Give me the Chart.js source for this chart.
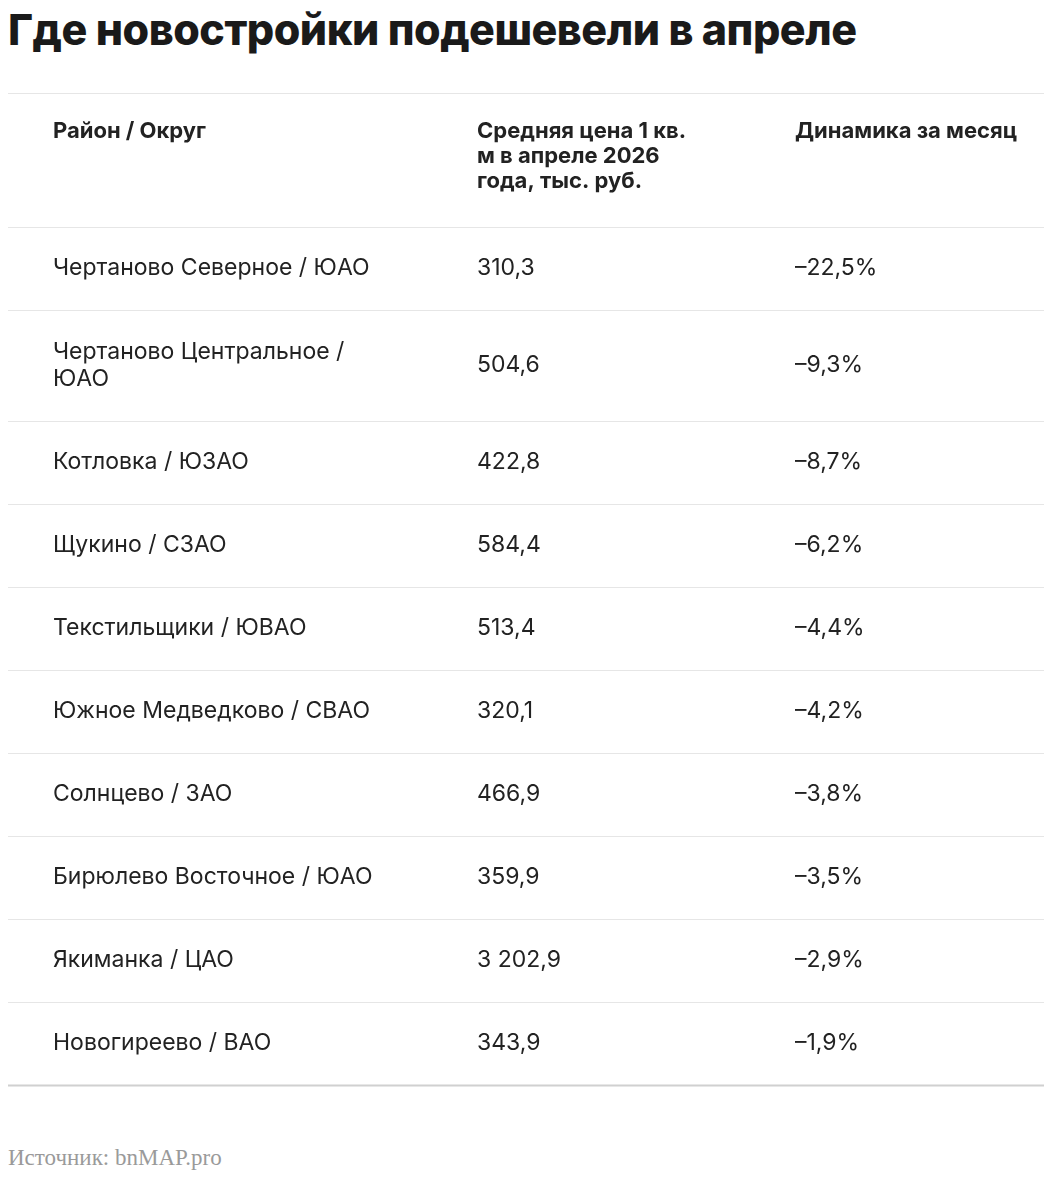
<!DOCTYPE html>
<html lang="ru">
<head>
<meta charset="utf-8">
<script src="https://cdn.jsdelivr.net/npm/chart.js@4.4.1/dist/chart.umd.min.js"></script>
<style>
  html, body { margin: 0; padding: 0; background: #fff; }
  body { width: 1044px; height: 1178px; position: relative; overflow: hidden; }
  h1 { position: absolute; left: 8px; top: 3px; margin: 0; font: 800 43px "Inter", "Roboto", sans-serif; color: #1a1a1a; letter-spacing: -0.5px; }
  #wrap { position: absolute; left: 8px; top: 93px; width: 1036px; height: 1000px; }
  .src { position: absolute; left: 8px; top: 1145px; font: 23px "Liberation Serif", "DejaVu Serif", serif; color: #9a9a9a; }
</style>
</head>
<body>
<h1>Где новостройки подешевели в апреле</h1>
<div id="wrap"><canvas id="tbl"></canvas></div>
<div class="src">Источник: bnMAP.pro</div>
<script>
// table data
const headers = ['Район / Округ', 'Средняя цена 1 кв.\nм в апреле 2026\nгода, тыс. руб.', 'Динамика за месяц'];
const districts = [
  'Чертаново Северное / ЮАО',
  'Чертаново Центральное /\nЮАО',
  'Котловка / ЮЗАО',
  'Щукино / СЗАО',
  'Текстильщики / ЮВАО',
  'Южное Медведково / СВАО',
  'Солнцево / ЗАО',
  'Бирюлево Восточное / ЮАО',
  'Якиманка / ЦАО',
  'Новогиреево / ВАО'
];
const prices = ['310,3', '504,6', '422,8', '584,4', '513,4', '320,1', '466,9', '359,9', '3 202,9', '343,9'];
const changes = ['–22,5%', '–9,3%', '–8,7%', '–6,2%', '–4,4%', '–4,2%', '–3,8%', '–3,5%', '–2,9%', '–1,9%'];

// layout (scale units == px)
const colX = [45, 469, 787];
const HEADER_H = 134, ROW_H = 83, ROW2_H = 111;
const bounds = [0, HEADER_H];
districts.forEach(d => bounds.push(bounds[bounds.length - 1] + (d.includes('\n') ? ROW2_H : ROW_H)));

const cells = [];
headers.forEach((h, c) => cells.push({ x: colX[c], y: 38, text: h, head: true }));
districts.forEach((d, r) => {
  const mid = (bounds[r + 1] + bounds[r + 2]) / 2;
  [d, prices[r], changes[r]].forEach((t, c) => cells.push({ x: colX[c], y: mid, text: t, head: false }));
});

const tablePlugin = {
  id: 'tableText',
  afterDatasetsDraw(chart) {
    const { ctx, scales: { x, y } } = chart;
    ctx.save();
    const x0 = x.getPixelForValue(0), x1 = x.getPixelForValue(1036);
    bounds.forEach((b, i) => {
      const py = y.getPixelForValue(b);
      const last = i === bounds.length - 1;
      ctx.strokeStyle = last ? '#d0d0d0' : '#e6e6e6';
      ctx.lineWidth = last ? 2 : 1;
      ctx.beginPath();
      ctx.moveTo(x0, Math.round(py) + 0.5);
      ctx.lineTo(x1, Math.round(py) + 0.5);
      ctx.stroke();
    });
    const meta = chart.getDatasetMeta(0);
    meta.data.forEach((pt, i) => {
      const c = cells[i];
      const lines = c.text.split('\n');
      ctx.fillStyle = '#222';
      ctx.textAlign = 'left';
      ctx.textBaseline = 'middle';
      if (c.head) {
        ctx.font = 'bold 22px Inter, Roboto, sans-serif';
        lines.forEach((l, k) => ctx.fillText(l, pt.x, pt.y + k * 25));
      } else {
        ctx.font = '23px Inter, Roboto, sans-serif';
        const lh = 27, start = pt.y - (lines.length - 1) * lh / 2;
        lines.forEach((l, k) => ctx.fillText(l, pt.x, start + k * lh));
      }
    });
    ctx.restore();
  }
};

new Chart(document.getElementById('tbl'), {
  type: 'scatter',
  data: { datasets: [{ data: cells.map(c => ({ x: c.x, y: c.y })), pointRadius: 0, pointHoverRadius: 0 }] },
  options: {
    responsive: true,
    maintainAspectRatio: false,
    animation: false,
    devicePixelRatio: 1,
    layout: { padding: 0 },
    events: [],
    plugins: { legend: { display: false }, tooltip: { enabled: false } },
    scales: {
      x: { type: 'linear', min: 0, max: 1036, display: false },
      y: { type: 'linear', min: 0, max: 1000, reverse: true, display: false }
    }
  },
  plugins: [tablePlugin]
});
</script>
</body>
</html>
